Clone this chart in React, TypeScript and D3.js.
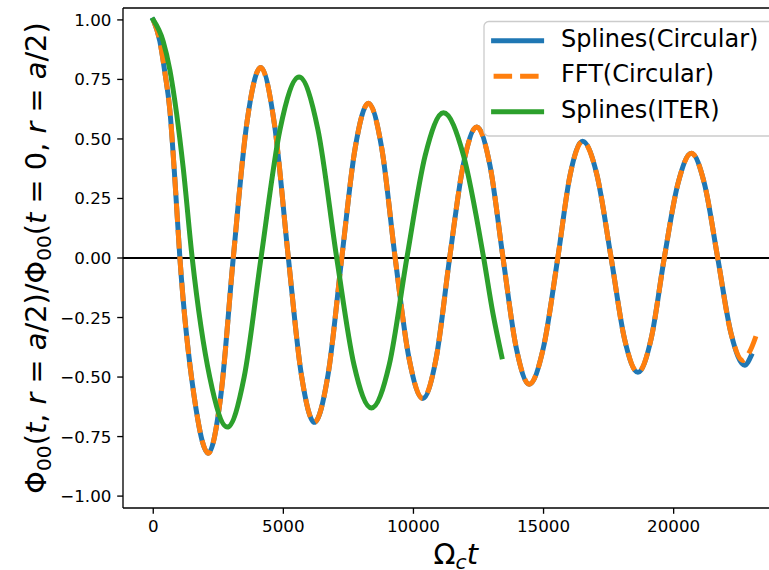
import React from 'react';
import * as d3 from 'd3';

// ---- data (t = Omega_c t, value = normalized potential) ----
const splinesCircT = [0, 254, 446, 639, 831, 1024, 1570, 2115, 2595, 3075, 3601, 4127, 4660, 5193, 5692, 6192, 6718, 7245, 7757, 8269, 8783, 9298, 9828, 10358, 10874, 11390, 11912, 12435, 12939, 13443, 13946, 14450, 14998, 15547, 16023, 16500, 17049, 17598, 18112, 18627, 19133, 19639, 20160, 20681, 21187, 21694, 22212, 22730, 22980];
const splinesCircV = [1.0, 0.91, 0.78, 0.62, 0.33, 0.0, -0.58, -0.82, -0.58, 0.0, 0.57, 0.80, 0.56, 0.0, -0.49, -0.69, -0.49, 0.0, 0.46, 0.65, 0.46, 0.0, -0.42, -0.59, -0.42, 0.0, 0.39, 0.55, 0.39, 0.0, -0.375, -0.53, -0.375, 0.0, 0.35, 0.49, 0.35, 0.0, -0.34, -0.48, -0.34, 0.0, 0.31, 0.44, 0.31, 0.0, -0.32, -0.45, -0.41];

const fftCircT = [0, 254, 446, 639, 831, 1024, 1570, 2115, 2595, 3075, 3601, 4127, 4660, 5193, 5692, 6192, 6718, 7245, 7757, 8269, 8783, 9298, 9828, 10358, 10874, 11390, 11912, 12435, 12939, 13443, 13946, 14450, 14998, 15547, 16023, 16500, 17049, 17598, 18112, 18627, 19133, 19639, 20160, 20681, 21187, 21694, 22190, 22656, 22980, 23250];
const fftCircV = [1.0, 0.91, 0.78, 0.62, 0.33, 0.0, -0.58, -0.82, -0.58, 0.0, 0.57, 0.80, 0.56, 0.0, -0.49, -0.69, -0.49, 0.0, 0.46, 0.65, 0.46, 0.0, -0.42, -0.59, -0.42, 0.0, 0.39, 0.55, 0.39, 0.0, -0.375, -0.53, -0.375, 0.0, 0.35, 0.49, 0.35, 0.0, -0.34, -0.48, -0.34, 0.0, 0.31, 0.44, 0.31, 0.0, -0.31, -0.43, -0.38, -0.30];

const splinesIterT = [0, 382, 638, 893, 1150, 1497, 2170, 2846, 3494, 4141, 4872, 5604, 6328, 7052, 7718, 8385, 9066, 9747, 10450, 11154, 11926, 12699, 13050, 13396];
const splinesIterV = [1.0, 0.91, 0.79, 0.61, 0.38, 0.0, -0.50, -0.71, -0.50, 0.0, 0.54, 0.76, 0.54, 0.0, -0.45, -0.63, -0.45, 0.0, 0.43, 0.61, 0.43, 0.0, -0.23, -0.415];

const seriesNames = ['Splines(Circular)', 'FFT(Circular)', 'Splines(ITER)'];
const seriesColors = ['#1f77b4', '#ff7f0e', '#2ca02c'];
const xTicks = [0, 5000, 10000, 15000, 20000];
const yTicks = [-1.0, -0.75, -0.5, -0.25, 0.0, 0.25, 0.5, 0.75, 1.0];

const W = 769;
const H = 570;
const FONT = 'DejaVu Sans, sans-serif';

export default function App() {
  const left = 123;
  const top = 8;
  const bottom = 508;
  const tMax = Math.max(d3.max(splinesCircT)!, d3.max(fftCircT)!, d3.max(splinesIterT)!);
  const xMin = -0.05 * tMax;
  const xMax = tMax * 1.05;
  const pxPerUnit = 130.1 / 5000;
  const right = left + (xMax - xMin) * pxPerUnit;
  const x = d3.scaleLinear().domain([xMin, xMax]).range([left, right]);
  const y = d3.scaleLinear().domain([-1.05, 1.05]).range([bottom, top]);

  const line = d3
    .line<[number, number]>()
    .x((d) => x(d[0]))
    .y((d) => y(d[1]))
    .curve(d3.curveMonotoneX);

  const zip = (t: number[], v: number[]) => t.map((tt, i) => [tt, v[i]] as [number, number]);
  const blue = line(zip(splinesCircT, splinesCircV)) || '';
  const orange = line(zip(fftCircT, fftCircV)) || '';
  const green = line(zip(splinesIterT, splinesIterV)) || '';

  const fmt = d3.format('.2f');
  const tickLen = 5.8;
  const tickFs = 16.7;
  const lw = 5;

  const legX = 484;
  const legY = 21.5;
  const legW = right - 12 - legX;
  const legH = 114.5;
  const handleX0 = 493.6;
  const handleX1 = 541.6;
  const rowLineY = [40.7, 76.2, 111.7];
  const rowTextY = [46.5, 82, 117.5];

  const xCenter = (left + right) / 2;
  const yCenter = (top + bottom) / 2;

  return (
    <svg
      width={W}
      height={H}
      viewBox={`0 0 ${W} ${H}`}
      style={{ position: 'absolute', left: 0, top: 0, background: '#fff' }}
      fontFamily={FONT}
    >
      <defs>
        <clipPath id="plotClip">
          <rect x={left} y={top} width={right - left} height={bottom - top} />
        </clipPath>
      </defs>
      <rect x={0} y={0} width={W} height={H} fill="#fff" />

      {/* zero line */}
      <line x1={left} x2={right} y1={y(0)} y2={y(0)} stroke="#000" strokeWidth={2.2} clipPath="url(#plotClip)" />

      <g clipPath="url(#plotClip)" fill="none" strokeLinejoin="round">
        <path d={blue} stroke={seriesColors[0]} strokeWidth={lw} strokeLinecap="square" />
        <path d={orange} stroke={seriesColors[1]} strokeWidth={lw} strokeDasharray="18.5 8" strokeLinecap="butt" />
        <path d={green} stroke={seriesColors[2]} strokeWidth={lw} strokeLinecap="square" />
      </g>

      {/* spines */}
      <g stroke="#000" strokeWidth={1.33} fill="none">
        <line x1={left} x2={left} y1={top} y2={bottom} />
        <line x1={left} x2={right} y1={bottom} y2={bottom} />
        <line x1={left} x2={right} y1={top} y2={top} />
        <line x1={right} x2={right} y1={top} y2={bottom} />
      </g>

      {/* y ticks */}
      {yTicks.map((v) => (
        <g key={'y' + v}>
          <line x1={left - tickLen} x2={left} y1={y(v)} y2={y(v)} stroke="#000" strokeWidth={1.33} />
          <text x={left - tickLen - 5.8} y={y(v) + 6} textAnchor="end" fontSize={tickFs} fill="#000">
            {fmt(v)}
          </text>
        </g>
      ))}

      {/* x ticks */}
      {xTicks.map((v) => (
        <g key={'x' + v}>
          <line x1={x(v)} x2={x(v)} y1={bottom} y2={bottom + tickLen} stroke="#000" strokeWidth={1.33} />
          <text x={x(v)} y={532.4} textAnchor="middle" fontSize={tickFs} fill="#000">
            {String(v)}
          </text>
        </g>
      ))}

      {/* x label: Omega_c t */}
      <text x={xCenter} y={564} textAnchor="middle" fontSize={28.8} fill="#000">
        Ω
        <tspan fontStyle="italic" fontSize={20.2} dy={5}>c</tspan>
        <tspan fontStyle="italic" fontSize={28.8} dy={-5}>t</tspan>
      </text>

      {/* y label */}
      <text
        transform={`translate(45.5, ${yCenter}) rotate(-90)`}
        textAnchor="middle"
        fontSize={28.8}
        fill="#000"
      >
        Φ<tspan fontSize={20.2} dy={5}>00</tspan>
        <tspan dy={-5}>(</tspan>
        <tspan fontStyle="italic">t</tspan>
        <tspan>, </tspan>
        <tspan fontStyle="italic">r</tspan>
        <tspan> = </tspan>
        <tspan fontStyle="italic">a</tspan>
        <tspan>/2)/Φ</tspan>
        <tspan fontSize={20.2} dy={5}>00</tspan>
        <tspan dy={-5}>(</tspan>
        <tspan fontStyle="italic">t</tspan>
        <tspan> = 0, </tspan>
        <tspan fontStyle="italic">r</tspan>
        <tspan> = </tspan>
        <tspan fontStyle="italic">a</tspan>
        <tspan>/2)</tspan>
      </text>

      {/* legend */}
      <rect
        x={legX}
        y={legY}
        width={legW}
        height={legH}
        rx={4.8}
        fill="#fff"
        fillOpacity={0.8}
        stroke="#cccccc"
        strokeWidth={1.33}
      />
      {seriesNames.map((name, i) => (
        <g key={name}>
          <line
            x1={handleX0}
            x2={handleX1}
            y1={rowLineY[i]}
            y2={rowLineY[i]}
            stroke={seriesColors[i]}
            strokeWidth={lw}
            strokeDasharray={i === 1 ? '18.5 8' : undefined}
            strokeLinecap={i === 1 ? 'butt' : 'square'}
          />
          <text x={561} y={rowTextY[i]} fontSize={24} fill="#000">
            {name}
          </text>
        </g>
      ))}
    </svg>
  );
}
